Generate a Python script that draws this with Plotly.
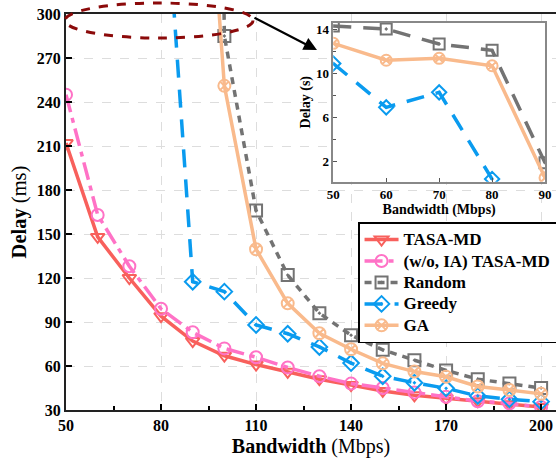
import plotly.graph_objects as go

bw = [50, 60, 70, 80, 90, 100, 110, 120, 130, 140, 150, 160, 170, 180, 190, 200]
tasa = [212, 148, 120, 94, 77, 67, 61, 56, 51, 47, 43, 40, 38, 36, 34, 32]
tasa_noia = [245, 163, 128, 99, 83, 72, 66, 59, 53, 48, 45, 42, 39, 36, 34.5, 32]
random_ms = [14300, 14030, 12670, 12100, 1900, 285, 166, 122, 96, 81, 71, 64, 57, 51, 48, 45]
greedy_ms = [10900, 6930, 8290, 430, 117.5, 110.7, 88, 82, 73, 62, 53, 48.6, 44.8, 39.6, 37.3, 35.7]
ga_ms = [12730, 11200, 11370, 10700, 550, 251, 139.6, 102.7, 82.3, 71.4, 61.8, 56.2, 52.7, 46, 43.6, 41]

inset_bw = [50, 60, 70, 80, 90]
inset_random = [14.3, 14.03, 12.67, 12.1, 1.9]
inset_greedy = [10.9, 6.93, 8.29, 0.43]
inset_ga = [12.73, 11.2, 11.37, 10.7, 0.55]

C_RED = "#F8605C"
C_PINK = "#FF72C6"
C_GREY = "#737373"
C_BLUE = "#0A9BEF"
C_ORANGE = "#F9BA8C"

FONT = "Liberation Serif"

fig = go.Figure()

def lg(name):
    return "<span style='font-size:17px'>" + name + "</span>"

def add(x, y, name, color, dash, symbol, xa="x", ya="y", show=True, msize=12, lw=3.5):
    fig.add_trace(go.Scatter(
        x=x, y=y, name=name, mode="lines+markers", xaxis=xa, yaxis=ya,
        showlegend=show, cliponaxis=True,
        line=dict(color=color, width=lw, dash=dash),
        marker=dict(symbol=symbol, size=msize, color=color,
                    line=dict(color=color, width=2)),
    ))

add(bw, tasa, lg("TASA-MD"), C_RED, "solid", "triangle-down-open")
add(bw, tasa_noia, lg("(w/o, IA) TASA-MD"), C_PINK, "18px,6px,5px,6px", "circle-open")
add(bw, random_ms, lg("Random"), C_GREY, "7px,6px", "square-open-dot")
add(bw, greedy_ms, lg("Greedy"), C_BLUE, "18px,12px", "diamond-open-dot")
add(bw, ga_ms, lg("GA"), C_ORANGE, "solid", "circle-x-open")

add(inset_bw, inset_random, "Random", C_GREY, "18px,12px", "square-open-dot", "x2", "y2", False, 11)
add(inset_bw[:4], inset_greedy, "Greedy", C_BLUE, "18px,12px", "diamond-open-dot", "x2", "y2", False, 11)
add(inset_bw, inset_ga, "GA", C_ORANGE, "solid", "circle-x-open", "x2", "y2", False, 11)

fig.update_layout(
    width=556, height=470,
    margin=dict(l=66, r=0, t=14, b=60, autoexpand=False),
    paper_bgcolor="white", plot_bgcolor="white",
    font=dict(family=FONT, color="black"),
    xaxis=dict(
        range=[50, 204.7], tickvals=[50, 80, 110, 140, 170, 200],
        ticks="inside", ticklen=6, tickwidth=1.5, tickcolor="black",
        minor=dict(tickvals=[65, 95, 125, 155, 185], ticks="inside", ticklen=4, tickcolor="black"),
        showline=True, linecolor="#222", linewidth=2, mirror=True,
        showgrid=True, gridcolor="#DDDDDD", griddash="dash", gridwidth=1,
        tickfont=dict(size=16, family=FONT, color="black", weight="bold"),
        title=dict(text="<b>Bandwidth</b> (Mbps)", font=dict(size=20, family=FONT), standoff=6),
        zeroline=False, domain=[0, 1], automargin=False,
    ),
    yaxis=dict(
        range=[30, 300], tickvals=[30, 60, 90, 120, 150, 180, 210, 240, 270, 300],
        ticks="inside", ticklen=6, tickwidth=1.5, tickcolor="black",
        showline=True, linecolor="#222", linewidth=2, mirror=True,
        showgrid=True, gridcolor="#DDDDDD", griddash="dash", gridwidth=1,
        tickfont=dict(size=16, family=FONT, color="black", weight="bold"),
        title=dict(text="<b>Delay</b> (ms)", font=dict(size=20.5, family=FONT), standoff=5),
        zeroline=False, domain=[0, 1], automargin=False,
    ),
    xaxis2=dict(
        domain=[0.5455, 0.9776], anchor="y2", range=[50, 90],
        tickvals=[50, 60, 70, 80, 90], ticks="inside", ticklen=4, tickcolor="#555",
        showline=True, linecolor="#888", linewidth=1.5, mirror=True,
        showgrid=False, zeroline=False, automargin=False,
        tickfont=dict(size=13, family=FONT, color="black", weight="bold"),
        title=dict(text="<b>Bandwidth (Mbps)</b>", font=dict(size=14, family=FONT), standoff=1),
    ),
    yaxis2=dict(
        domain=[0.5765, 0.978], anchor="x2", range=[0.19, 14.6],
        tickvals=[2, 6, 10, 14], ticks="inside", ticklen=4, tickcolor="#555",
        minor=dict(tickvals=[4, 8, 12], ticks="inside", ticklen=3, tickcolor="#555"),
        showline=True, linecolor="#888", linewidth=1.5, mirror=True,
        showgrid=False, zeroline=False, automargin=False,
        tickfont=dict(size=13, family=FONT, color="black", weight="bold"),
        title=dict(text="<b>Delay (s)</b>", font=dict(size=14, family=FONT), standoff=2),
    ),
    legend=dict(
        x=0.596, y=0.474, xanchor="left", yanchor="top",
        bgcolor="white", bordercolor="black", borderwidth=1.5,
        font=dict(size=14.2, family=FONT, color="black", weight="bold"),
        tracegroupgap=0, itemwidth=34,
    ),
    showlegend=True,
)

fig.add_shape(type="circle", xref="paper", yref="paper",
              x0=-0.002, x1=0.3816, y0=0.9394, y1=1.0278,
              line=dict(color="#8B0A0A", width=3, dash="dash"), layer="above")

fig.add_annotation(xref="paper", yref="paper", x=0.5122, y=0.909,
                   axref="pixel", ayref="pixel", ax=-64, ay=-33,
                   text="", showarrow=True, arrowhead=2, arrowsize=1.2,
                   arrowwidth=2.2, arrowcolor="black")

fig.write_html("out.html", config={"displayModeBar": False},
               post_script="document.body.style.margin='0px';")
